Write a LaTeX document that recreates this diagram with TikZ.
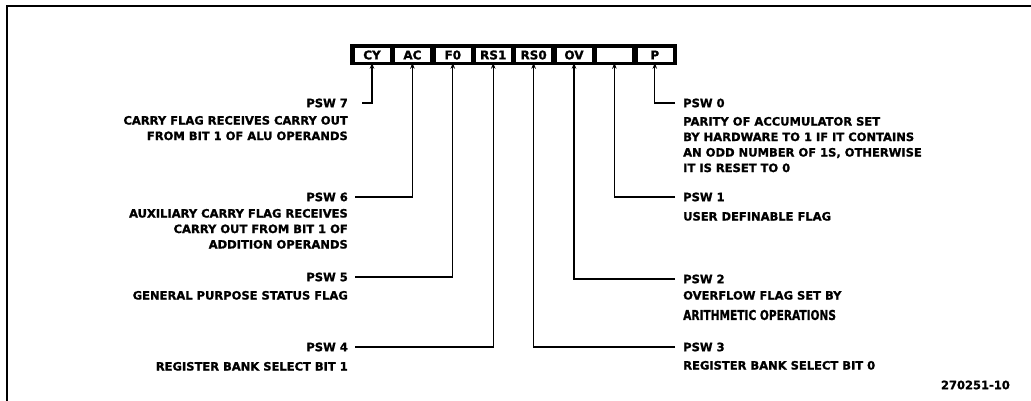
\documentclass[tikz,border=0pt]{standalone}
\usepackage{fontspec}
\setmainfont{DejaVu Sans}[BoldFeatures={FakeBold=1.2}]
\usetikzlibrary{arrows.meta}
\begin{document}
\begin{tikzpicture}[x=1pt,y=-1pt,
  lbl/.style={font=\bfseries\fontsize{11.5}{15.5}\selectfont, inner sep=0pt},
  descr/.style={lbl, align=right, anchor=north east},
  descl/.style={lbl, align=left, anchor=north west},
  cell/.style={draw=black, line width=0.6pt, fill=white, minimum width=36pt,
    minimum height=15pt, inner sep=0pt, font=\bfseries\fontsize{12}{13}\selectfont},
  conn/.style={line width=1.3pt, -{Stealth[length=6pt,width=4.5pt]}}]
\useasboundingbox (0,0) rectangle (1031,400);
% frame (right and bottom edges lie outside the picture)
\draw[line width=2pt] (7,6) rectangle (1045,415);
% register
\node[fill=black, minimum width=327pt, minimum height=21pt, inner sep=0pt] (reg) at (513.5,54.5) {};
\foreach \t [count=\i from 0] in {CY,AC,F0,RS1,RS0,OV,{},P}
  \node[cell] (c\i) at (372+40.4*\i,55) {\t};
% left labels
\node[lbl, anchor=east] (p7) at (348,103) {PSW 7};
\node[descr] (d7) at (348,115.8) {CARRY FLAG RECEIVES CARRY OUT\\FROM BIT 1 OF ALU OPERANDS};
\node[lbl, anchor=east] (p6) at (348,197) {PSW 6};
\node[descr] (d6) at (348,208.8) {AUXILIARY CARRY FLAG RECEIVES\\CARRY OUT FROM BIT 1 OF\\ADDITION OPERANDS};
\node[lbl, anchor=east] (p5) at (348,277) {PSW 5};
\node[descr] (d5) at (348,290.8) {GENERAL PURPOSE STATUS FLAG};
\node[lbl, anchor=east] (p4) at (348,347) {PSW 4};
\node[descr] (d4) at (348,361.8) {REGISTER BANK SELECT BIT 1};
% right labels
\node[lbl, anchor=west] (p0) at (683,103) {PSW 0};
\node[descl] (d0) at (683,116.8) {PARITY OF ACCUMULATOR SET\\BY HARDWARE TO 1 IF IT CONTAINS\\AN ODD NUMBER OF 1S, OTHERWISE\\IT IS RESET TO 0};
\node[lbl, anchor=west] (p1) at (683,197) {PSW 1};
\node[descl] (d1) at (683,211.8) {USER DEFINABLE FLAG};
\node[lbl, anchor=west] (p2) at (683,279) {PSW 2};
\node[descl] (d2) at (683,290.8) {OVERFLOW FLAG SET BY};
\node[lbl, anchor=west] (d2b) at (683,315) {\scalebox{0.92}[1.18]{ARITHMETIC OPERATIONS}};
\node[lbl, anchor=west] (p3) at (683,347) {PSW 3};
\node[descl] (d3) at (683,360.8) {REGISTER BANK SELECT BIT 0};
\node[lbl, anchor=east] (fig) at (1010,385) {270251-10};
% connectors
\draw[conn] ([xshift=14pt]p7.east) -| (c0.south);
\draw[conn] ([xshift=7pt]p6.east) -| (c1.south);
\draw[conn] ([xshift=7pt]p5.east) -| (c2.south);
\draw[conn] ([xshift=7pt]p4.east) -| (c3.south);
\draw[conn] ([xshift=-8pt]p3.west) -| (c4.south);
\draw[conn] ([xshift=-8pt]p2.west) -| (c5.south);
\draw[conn] ([xshift=-8pt]p1.west) -| (c6.south);
\draw[conn] ([xshift=-8pt]p0.west) -| (c7.south);
\end{tikzpicture}
\end{document}
